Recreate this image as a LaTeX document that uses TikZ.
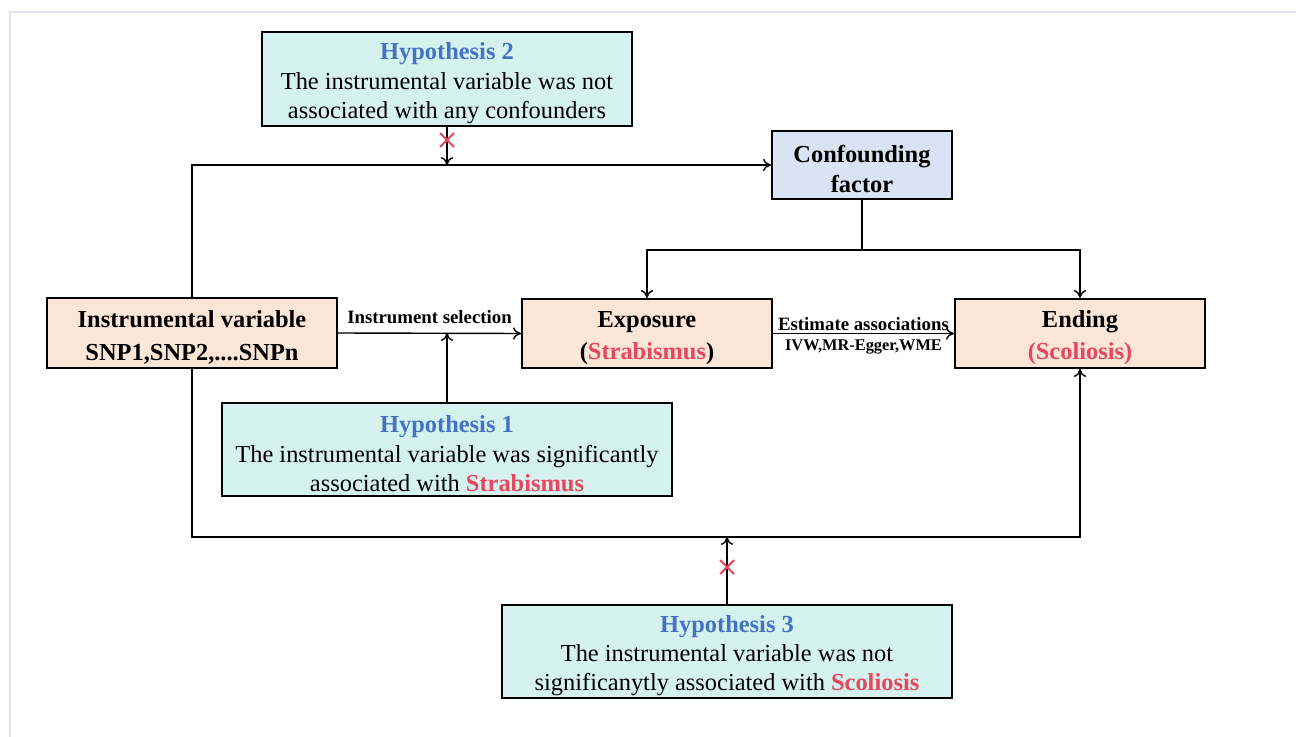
\documentclass[tikz,border=0pt]{standalone}
\usepackage{fontspec}
\usetikzlibrary{arrows.meta}
\setmainfont{Liberation Serif}
\definecolor{hypfill}{RGB}{213,242,238}
\definecolor{conffill}{RGB}{218,227,243}
\definecolor{varfill}{RGB}{251,229,214}
\definecolor{hypblue}{RGB}{68,114,196}
\definecolor{keyred}{RGB}{232,69,94}
\definecolor{framegray}{RGB}{224,228,236}
\newcommand{\boxstrut}{\rule{0pt}{14.5pt}}
\begin{document}
\begin{tikzpicture}[x=0.02cm,y=-0.02cm,
	box/.style={draw=black,line width=1.2pt,align=center,inner xsep=2pt,inner ysep=0pt},
	hypbox/.style={box,fill=hypfill,font=\fontsize{13.9}{16.6}\selectfont},
	varbox/.style={box,fill=varfill,font=\bfseries\fontsize{13.9}{18.4}\selectfont},
	confbox/.style={box,fill=conffill,font=\bfseries\fontsize{13.9}{17.5}\selectfont},
	link/.style={line width=0.8pt,-{To[length=4.5pt,width=7pt]}},
	lab/.style={font=\bfseries\fontsize{10.7}{12}\selectfont,inner sep=1pt},
	cross/.style={keyred,line width=1.2pt}]
	\useasboundingbox (0,0) rectangle (1296,737);
	% Rahmen
	\draw[framegray,line width=0.8pt] (10,737) |- (1296,12);
	% Hypothesen
	\node[hypbox,minimum width=7.4cm,minimum height=1.88cm] (hyp2) at (447,79)
		{\boxstrut\textbf{\textcolor{hypblue}{Hypothesis 2}}\\The instrumental variable was not\\associated with any confounders};
	\node[hypbox,minimum width=9cm,minimum height=1.86cm] (hyp1) at (447,449.5)
		{\boxstrut\textbf{\textcolor{hypblue}{Hypothesis 1}}\\The instrumental variable was significantly\\associated with \textbf{\textcolor{keyred}{Strabismus}}};
	\node[hypbox,minimum width=9cm,minimum height=1.86cm] (hyp3) at (727,651.5)
		{\boxstrut\textbf{\textcolor{hypblue}{Hypothesis 3}}\\The instrumental variable was not\\significanytly associated with \textbf{\textcolor{keyred}{Scoliosis}}};
	% Variablen
	\node[confbox,minimum width=3.6cm,minimum height=1.36cm] (conf) at (862,165) {\boxstrut Confounding\\factor};
	\node[varbox,minimum width=5.8cm,minimum height=1.4cm] (instr) at (192,333) {\boxstrut Instrumental variable\\SNP1,SNP2,....SNPn};
	\node[varbox,minimum width=5cm,minimum height=1.38cm] (expo) at (647,333.5) {\boxstrut Exposure\\(\textcolor{keyred}{Strabismus})};
	\node[varbox,minimum width=5cm,minimum height=1.38cm] (ending) at (1080,333.5) {\boxstrut Ending\\\textcolor{keyred}{(Scoliosis)}};
	\coordinate (split) at (862,250);
	\coordinate (low) at (192,537);
	% Pfeile oben
	\draw[link] (instr.north) |- (conf.west);
	\draw[link] (hyp2.south) -- (hyp2.south |- conf.west);
	\draw[line width=0.8pt] (conf.south) -- (split);
	\draw[link] (split) -| (expo.north);
	\draw[link] (split) -| (ending.north);
	% Pfeile Mitte
	\draw[link] (instr.east) -- node[lab,above,yshift=4pt] {Instrument selection} (expo.west);
	\draw[link] (hyp1.north) -- (hyp1.north |- instr.east);
	\draw[link] (expo.east) -- node[lab,above] {Estimate associations}
		node[lab,below,yshift=-2pt,font=\bfseries\fontsize{9.3}{11}\selectfont] {IVW,MR-Egger,WME} (ending.west);
	% Pfeile unten
	\draw[link] (instr.south) -- (low) -| (ending.south);
	\draw[link] (hyp3.north) -- (hyp3.north |- low);
	% Kreuze
	\draw[cross] (440,133) -- ++(14,14) (440,147) -- ++(14,-14);
	\draw[cross] (720,560) -- ++(14,14) (720,574) -- ++(14,-14);
\end{tikzpicture}
\end{document}
